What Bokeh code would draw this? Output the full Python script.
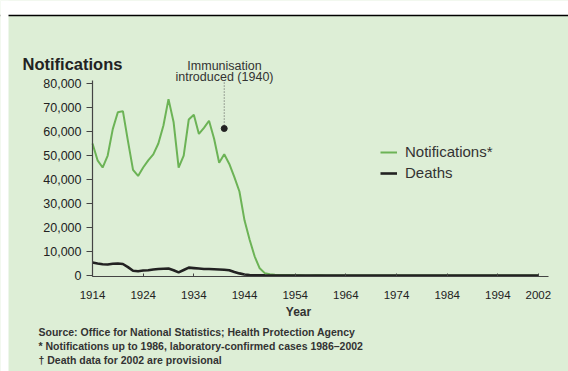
from bokeh.plotting import figure
from bokeh.models import (ColumnDataSource, FixedTicker, NumeralTickFormatter, Label,
                          Legend, LegendItem, BoxAnnotation, Span)
from bokeh.embed import file_html
from bokeh.resources import INLINE

# ---------------- data ----------------
years = list(range(1914, 2003))
notifications = [
    55000, 48000, 45000, 50000, 61000, 68000, 68500, 56000, 44000, 41500,   # 1914-1923
    45000, 48000, 50500, 55000, 62500, 73500, 64000, 45000, 50000, 65000,   # 1924-1933
    67000, 59000, 61500, 64500, 57000, 47000, 50500, 46500, 41000, 35000,   # 1934-1943
    23000, 15000, 8000, 3000, 1000, 500, 300, 250, 200, 180,                # 1944-1953
    170, 160, 50, 40, 80, 100, 50, 50, 20, 30,                             # 1954-1963
    20, 20, 10, 10, 10, 10, 20, 10, 5, 5,                                  # 1964-1973
    5, 10, 5, 5, 5, 5, 5, 5, 5, 5,                                         # 1974-1983
    5, 5, 5, 5, 5, 5, 5, 5, 5, 5,                                          # 1984-1993
    5, 5, 5, 5, 5, 5, 5, 5, 5,                                             # 1994-2002
]
deaths = [
    5400, 5000, 4700, 4600, 4900, 5000, 4800, 3500, 2000, 1800,   # 1914-1923
    2100, 2200, 2500, 2700, 2800, 2900, 2200, 1300, 2300, 3300,   # 1924-1933
    3100, 2900, 2700, 2700, 2600, 2500, 2400, 2200, 1500, 900,    # 1934-1943
    450, 250, 150, 80, 50, 33, 32, 23, 15, 10,                    # 1944-1953
    9, 13, 8, 6, 8, 0, 5, 10, 2, 0,                               # 1954-1963
    0, 0, 0, 0, 0, 0, 0, 0, 0, 0,                                 # 1964-1973
    0, 0, 0, 0, 0, 0, 0, 0, 0, 0,                                 # 1974-1983
    0, 1, 0, 0, 0, 0, 0, 0, 0, 0,                                 # 1984-1993
    1, 0, 0, 0, 0, 0, 0, 0, 0,                                    # 1994-2002
]
x_ticks = [1914, 1924, 1934, 1944, 1954, 1964, 1974, 1984, 1994, 2002]
y_ticks = [0, 10000, 20000, 30000, 40000, 50000, 60000, 70000, 80000]
immunisation_year = 1940
immunisation_top = 80400
immunisation_dot = 61250

series_names = ["Notifications*", "Deaths"]
title_text = "Notifications"
annot_lines = ["Immunisation", "introduced (1940)"]
footnotes = [
    "Source: Office for National Statistics; Health Protection Agency",
    "* Notifications up to 1986, laboratory-confirmed cases 1986\u20132002",
    "\u2020 Death data for 2002 are provisional",
]

# ---------------- styling / geometry ----------------
BG = "#ddeed6"
GREEN = "#6cb356"
DARK = "#222222"
FONT = "Liberation Sans"

W, H = 568, 371
PAGE_X0, PAGE_Y0 = 0, 0            # where the figure sits in the picture
AX_X0, AX_X1 = 1914, 2004          # x-axis extent (data)
AX_Y0, AX_Y1 = -400, 81250         # y-axis extent (data)
PX_L, PX_R = 92, 548               # picture x of AX_X0 / AX_X1
PY_B, PY_T = 276, 80               # picture y of AX_Y0 / AX_Y1

sx = (AX_X1 - AX_X0) / (PX_R - PX_L)
sy = (AX_Y1 - AX_Y0) / (PY_B - PY_T)
def X(px):
    return AX_X0 + (px - PX_L) * sx
def Y(py):
    return AX_Y0 + (PY_B - py) * sy

x_range = (X(PAGE_X0), X(PAGE_X0 + W))
y_range = (Y(PAGE_Y0 + H), Y(PAGE_Y0))

src = ColumnDataSource(dict(year=years, notif=notifications, deaths=deaths))

p = figure(width=W, height=H, output_backend="svg", toolbar_location=None,
           x_range=x_range, y_range=y_range,
           min_border=0, min_border_left=0, min_border_right=0,
           min_border_top=0, min_border_bottom=0)
p.background_fill_color = BG
p.border_fill_color = BG
p.outline_line_color = None
p.grid.visible = False

# white strip and rule at the top, white margin at left
p.add_layout(BoxAnnotation(bottom=Y(15), fill_color="white", fill_alpha=1, line_color=None))
p.add_layout(Span(location=Y(15), dimension="width", line_color="black", line_width=1.5))
p.add_layout(BoxAnnotation(right=X(8), fill_color="white", fill_alpha=1, line_color=None))

r_n = p.line("year", "notif", source=src, line_color=GREEN, line_width=2)
r_d = p.line("year", "deaths", source=src, line_color=DARK, line_width=2.6)

# immunisation marker
p.segment(x0=[immunisation_year], y0=[immunisation_top], x1=[immunisation_year], y1=[immunisation_dot],
          line_color="#555555", line_width=1, line_dash="1 2")
p.scatter(x=[immunisation_year], y=[immunisation_dot], size=6, color=DARK)

# axes, drawn at fixed locations inside the frame
xa, ya = p.xaxis[0], p.yaxis[0]
xa.fixed_location = AX_Y0
ya.fixed_location = AX_X0
xa.bounds = (AX_X0, AX_X1)
ya.bounds = (AX_Y0, AX_Y1)
for ax in (xa, ya):
    ax.axis_line_color = "#444444"
    ax.axis_line_width = 1.2
    ax.major_tick_line_color = "#444444"
    ax.minor_tick_line_color = None
    ax.major_label_text_font = FONT
    ax.major_label_text_color = DARK

xa.ticker = FixedTicker(ticks=x_ticks)
xa.major_tick_in = 3
xa.major_tick_out = 0
xa.major_label_standoff = 14
xa.major_label_text_font_size = "11.5px"

ya.ticker = FixedTicker(ticks=y_ticks)
ya.formatter = NumeralTickFormatter(format="0,0")
ya.major_tick_in = 0
ya.major_tick_out = 6
ya.major_label_standoff = 5
ya.major_label_text_font_size = "12.5px"

# legend (location = left / bottom offset from the frame's bottom-left corner)
legend = Legend(items=[LegendItem(label=series_names[0], renderers=[r_n]),
                       LegendItem(label=series_names[1], renderers=[r_d])],
                location=(380 - PAGE_X0, PAGE_Y0 + H - 181), orientation="vertical",
                background_fill_alpha=0, border_line_color=None,
                padding=0, margin=0, spacing=4,
                glyph_width=17, glyph_height=16, label_height=16, label_standoff=8,
                label_text_font=FONT, label_text_font_size="15px", label_text_color="#333333")
p.add_layout(legend)

# texts
p.add_layout(Label(x=X(22), y=Y(63), text=title_text, text_font=FONT, text_font_style="bold",
                   text_font_size="16.5px", text_color=DARK, text_baseline="middle"))
for i, t in enumerate(annot_lines):
    p.add_layout(Label(x=X(224), y=Y(65 + 11 * i), text=t, text_font=FONT, text_font_size="12.5px",
                       text_color="#333333", text_align="center", text_baseline="middle"))
p.add_layout(Label(x=X(298), y=Y(311), text="Year", text_font=FONT, text_font_style="bold",
                   text_font_size="12px", text_color="#333333", text_align="center",
                   text_baseline="middle"))
for i, t in enumerate(footnotes):
    p.add_layout(Label(x=X(38), y=Y(331 + 14 * i), text=t, text_font=FONT, text_font_style="bold",
                       text_font_size="10.5px", text_color="#333333", text_baseline="middle"))

open("out.html", "w").write(file_html(p, INLINE))
